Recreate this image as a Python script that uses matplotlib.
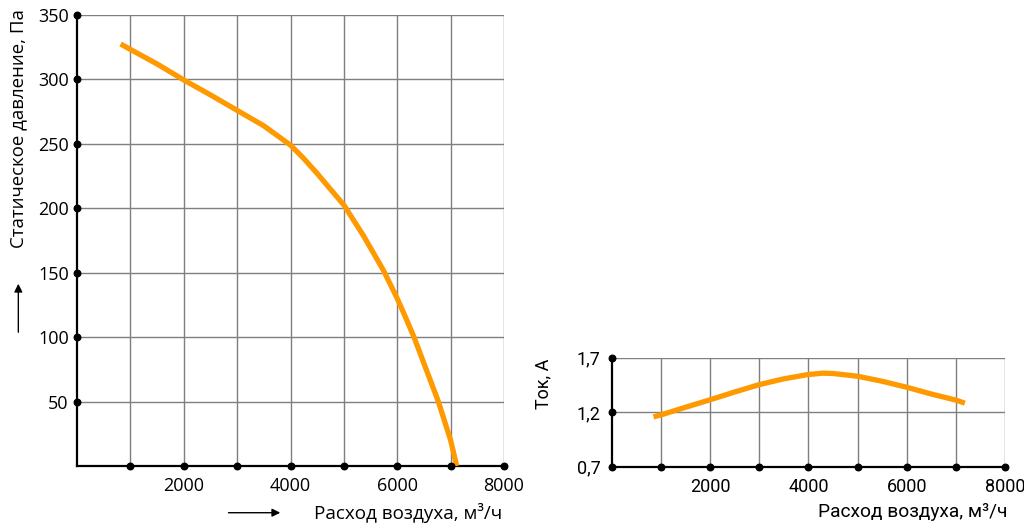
import matplotlib
matplotlib.use('Agg')
import matplotlib.pyplot as plt

# pressure curve (left panel)
flow_p = [818, 1000, 1500, 2000, 2500, 3000, 3500, 4000, 4240, 4500, 5000, 5363, 5739, 6000, 6177, 6314, 6770, 7000, 7114]
pressure = [327.5, 323.3, 312, 299.6, 288, 276, 264, 249, 239, 227, 202.5, 179, 152, 130, 113.3, 100, 50, 20, 0]

# current curve (right panel)
flow_i = [850, 1000, 1500, 2000, 2500, 3000, 3500, 4000, 4300, 4500, 5000, 5500, 6000, 6500, 7000, 7184]
current = [1.157, 1.175, 1.245, 1.314, 1.385, 1.453, 1.506, 1.546, 1.558, 1.555, 1.53, 1.484, 1.429, 1.367, 1.311, 1.283]

x_ticks = [1000, 2000, 3000, 4000, 5000, 6000, 7000, 8000]
x_labels = ['', '2000', '', '4000', '', '6000', '', '8000']
p_ticks = [50, 100, 150, 200, 250, 300, 350]
i_ticks = [0.7, 1.2, 1.7]
i_labels = ['0,7', '1,2', '1,7']

orange = '#FF9900'
grid_c = '#7f7f7f'

fig = plt.figure(figsize=(10.24, 5.25), dpi=100)
ax1 = fig.add_axes([77/1024, 1-466/525, 427/1024, 451/525])
ax2 = fig.add_axes([611.7/1024, 1-466.7/525, 393.3/1024, 109/525])

for ax in (ax1, ax2):
    ax.spines['top'].set_visible(False)
    ax.spines['right'].set_visible(False)
    ax.spines['left'].set_linewidth(1.6)
    ax.spines['bottom'].set_linewidth(1.6)
    ax.grid(True, color=grid_c, linewidth=1.0)
    ax.set_axisbelow(True)
    ax.tick_params(length=0)
    ax.set_xlim(0, 8000)
    ax.set_xticks(x_ticks)
    ax.set_xticklabels(x_labels)

# left panel
ax1.set_ylim(0, 350)
ax1.set_yticks(p_ticks)
ax1.plot(flow_p, pressure, color=orange, lw=3.8, solid_capstyle='butt',
         solid_joinstyle='round', zorder=3)
ax1.plot(x_ticks, [0]*len(x_ticks), 'o', color='black', ms=4.7, clip_on=False, zorder=4)
ax1.plot([0]*len(p_ticks), p_ticks, 'o', color='black', ms=4.7, clip_on=False, zorder=4)
for lab in ax1.get_xticklabels() + ax1.get_yticklabels():
    lab.set_family('Open Sans')
    lab.set_fontsize(13)
ax1.tick_params(axis='x', pad=8)
ax1.tick_params(axis='y', pad=6)

# right panel
ax2.set_ylim(0.7, 1.7)
ax2.set_yticks(i_ticks)
ax2.set_yticklabels(i_labels)
ax2.plot(flow_i, current, color=orange, lw=3.8, solid_capstyle='butt',
         solid_joinstyle='round', zorder=3)
ax2.plot(x_ticks, [0.7]*len(x_ticks), 'o', color='black', ms=4.7, clip_on=False, zorder=4)
ax2.plot([0]*len(i_ticks), i_ticks, 'o', color='black', ms=4.7, clip_on=False, zorder=4)
for lab in ax2.get_xticklabels() + ax2.get_yticklabels():
    lab.set_family('Roboto')
    lab.set_fontsize(13)
ax2.tick_params(axis='x', pad=8)
ax2.tick_params(axis='y', pad=8)

# labels
fig.text(0.0176, 0.756, 'Статическое давление, Па', rotation=90, ha='center', va='center',
         fontsize=13.4, family='Open Sans')
fig.text(0.3984, 0.0234, 'Расход воздуха, м³/ч', ha='center', va='center',
         fontsize=13.6, family='Open Sans')
fig.text(0.891, 0.0253, 'Расход воздуха, м³/ч', ha='center', va='center',
         fontsize=13.8, family='Roboto')
fig.text(0.5308, 0.2686, 'Ток, А', rotation=90, ha='center', va='center',
         fontsize=13, family='Roboto')

# arrows
fig.add_artist(matplotlib.patches.FancyArrowPatch((0.0179, 0.3619), (0.0179, 0.4648),
               transform=fig.transFigure, arrowstyle='-|>', mutation_scale=12,
               color='black', lw=1.0))
fig.add_artist(matplotlib.patches.FancyArrowPatch((0.2204, 0.0234), (0.2764, 0.0234),
               transform=fig.transFigure, arrowstyle='-|>', mutation_scale=12,
               color='black', lw=1.0))

plt.savefig('out.png', dpi=100)
